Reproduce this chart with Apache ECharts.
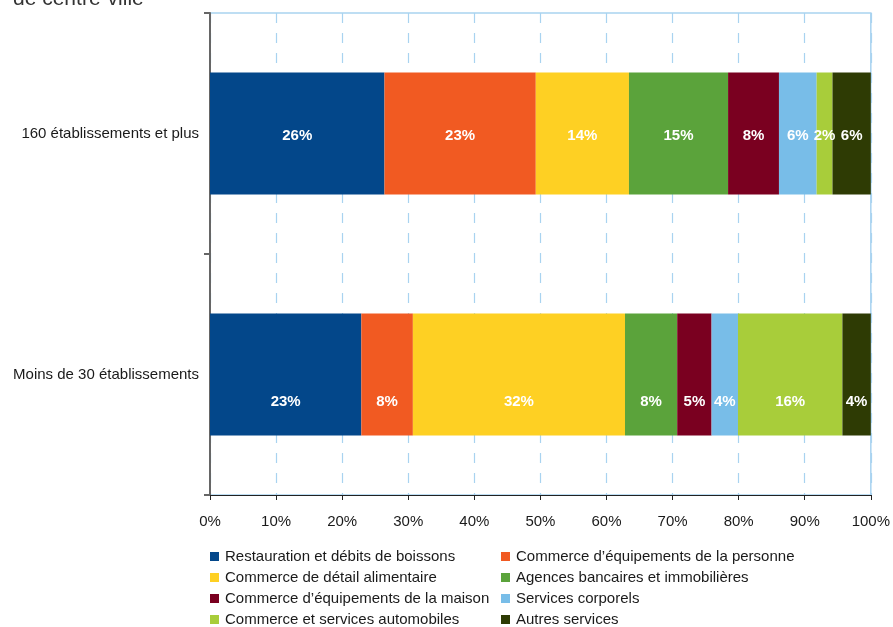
<!DOCTYPE html>
<html>
<head>
<meta charset="utf-8">
<script src="https://cdn.jsdelivr.net/npm/echarts@6/dist/echarts.min.js"></script>
<style>
  html, body { margin: 0; padding: 0; background: #fff; }
  #chart { width: 893px; height: 627px; }
</style>
</head>
<body>
<div id="chart"></div>
<script>
// Répartition des établissements de centre-ville selon la taille du pôle
const categories = ['160 établissements et plus', 'Moins de 30 établissements'];

const activityNames = [
  'Restauration et débits de boissons',
  'Commerce d\u2019équipements de la personne',
  'Commerce de détail alimentaire',
  'Agences bancaires et immobilières',
  'Commerce d\u2019équipements de la maison',
  'Services corporels',
  'Commerce et services automobiles',
  'Autres services'
];

// Parts (%) pour chaque taille de pôle, dans l'ordre des activités
const share160Plus = [26.4, 22.9, 14.1, 15.0, 7.7, 5.7, 2.4, 5.8];
const shareUnder30 = [22.9, 7.8, 32.1, 7.9, 5.2, 4.0, 15.8, 4.3];

const activityColors = ['#03478a', '#f15a22', '#fed023', '#5ba33b', '#7a0020', '#78bde8', '#a8cd3a', '#2e3b04'];

const xTicks = { min: 0, max: 100, interval: 10 };

const FONT = '"Liberation Sans", Arial, sans-serif';

const series = activityNames.map((name, i) => ({
  name: name,
  type: 'bar',
  stack: 'total',
  barWidth: 122,
  itemStyle: { color: activityColors[i] },
  emphasis: { disabled: true },
  label: {
    show: true,
    position: 'inside',
    color: '#fff',
    fontWeight: 'bold',
    fontSize: 15,
    fontFamily: FONT,
    formatter: p => Math.round(p.value) + '%'
  },
  data: [
    { value: share160Plus[i], label: { offset: [0, 2] } },
    { value: shareUnder30[i], label: { offset: [0, 27] } }
  ]
}));

const legendBase = {
  orient: 'vertical',
  top: 549,
  height: 120,
  itemWidth: 9,
  itemHeight: 9,
  itemGap: 6,
  padding: 0,
  icon: 'rect',
  selectedMode: false,
  textStyle: { fontSize: 15, lineHeight: 15, color: '#1a1a1a', fontFamily: FONT, padding: [0, 0, 0, 1] }
};

const chart = echarts.init(document.getElementById('chart'), null, { renderer: 'canvas' });
chart.setOption({
  animation: false,
  backgroundColor: '#fff',
  graphic: [{
    type: 'text',
    x: 13,
    y: -11,
    style: { text: 'de centre-ville', fontSize: 21, fontFamily: FONT, fill: '#333' }
  }],
  grid: {
    left: 210, right: 20, top: 13, bottom: 132,
    show: true, borderColor: '#a9d3f0', borderWidth: 1.5, backgroundColor: 'transparent'
  },
  legend: [
    Object.assign({}, legendBase, { left: 210, data: [0, 2, 4, 6].map(i => activityNames[i]) }),
    Object.assign({}, legendBase, { left: 501, data: [1, 3, 5, 7].map(i => activityNames[i]) })
  ],
  xAxis: {
    type: 'value',
    min: xTicks.min,
    max: xTicks.max,
    interval: xTicks.interval,
    axisLine: { show: true, lineStyle: { color: '#222', width: 1 } },
    axisTick: { show: true, length: 5, lineStyle: { color: '#222' } },
    axisLabel: { formatter: '{value}%', fontSize: 15, color: '#1a1a1a', fontFamily: FONT, margin: 19 },
    splitLine: { show: true, lineStyle: { color: '#a9d3f0', type: [10, 10], width: 1.2 } }
  },
  yAxis: {
    type: 'category',
    inverse: true,
    data: categories,
    axisLine: { show: true, lineStyle: { color: '#666', width: 2 } },
    axisTick: { show: true, length: 6, alignWithLabel: false, lineStyle: { color: '#666', width: 2 } },
    axisLabel: { fontSize: 15, color: '#1a1a1a', fontFamily: FONT, margin: 11 },
    splitLine: { show: false }
  },
  series: series
});
</script>
</body>
</html>
